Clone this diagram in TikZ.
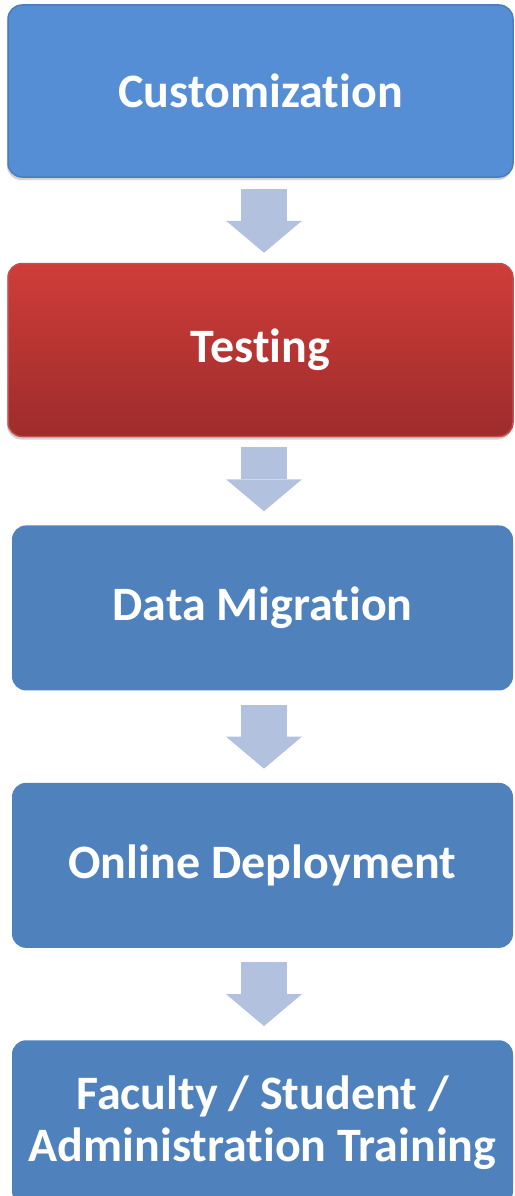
\documentclass[tikz,border=0pt]{standalone}
\usepackage{fontspec}
\setmainfont[Ligatures=NoCommon]{Carlito}
\usepackage{tikz}
\usetikzlibrary{
  arrows.meta,
  positioning,
  shadows
}
\definecolor{custblue}{HTML}{558ED5}
\definecolor{custedge}{HTML}{4A7DBA}
\definecolor{testtop}{HTML}{CF3D39}
\definecolor{testbot}{HTML}{9D2C2C}
\definecolor{testedge}{HTML}{C0504D}
\definecolor{stepblue}{HTML}{4F81BD}
\definecolor{flowgrey}{HTML}{B2C2DE}
\tikzset{
  stepbox/.style={
    rectangle, rounded corners=14pt, fill=stepblue,
    minimum width=501pt, minimum height=165pt, align=center,
    text=white, font=\fontsize{48}{52}\selectfont\bfseries, inner sep=0pt
  },
  raisedbox/.style={
    stepbox, minimum width=505pt, line width=1.5pt,
    drop shadow={shadow xshift=-1pt, shadow yshift=-3pt, opacity=0.35}
  },
  flowarrow/.style={
    line width=46pt, color=flowgrey,
    -{Triangle[length=32pt, width=76pt, line width=0pt]}
  },
}

\begin{document}
\begin{tikzpicture}[x=1pt, y=1pt]
  \clip (0,0) rectangle (514,-1196);
  \node[raisedbox, fill=custblue, draw=custedge, minimum height=172pt] (cust)
    at (260.5,-91) {Customization};
  \node[raisedbox, top color=testtop, bottom color=testbot, draw=testedge,
    minimum height=173pt, below=85pt of cust] (test) {Testing};
  \node[stepbox, below=88pt of test, xshift=2pt] (migr) {Data Migration};
  \node[stepbox, below=92pt of migr] (deploy) {Online Deployment};
  \node[stepbox, below=92pt of deploy] (train) {Faculty / Student /\\Administration Training};

  \draw[flowarrow] ([xshift=3.5pt, yshift=-11pt]cust.south) -- ([xshift=3.5pt, yshift=10pt]test.north);
  \draw[flowarrow] ([xshift=3.5pt, yshift=-10pt]test.south) -- ([xshift=1.5pt, yshift=14pt]migr.north);
  \draw[flowarrow] ([xshift=1.5pt, yshift=-14pt]migr.south) -- ([xshift=1.5pt, yshift=14pt]deploy.north);
  \draw[flowarrow] ([xshift=1.5pt, yshift=-14pt]deploy.south) -- ([xshift=1.5pt, yshift=14pt]train.north);
\end{tikzpicture}
\end{document}
